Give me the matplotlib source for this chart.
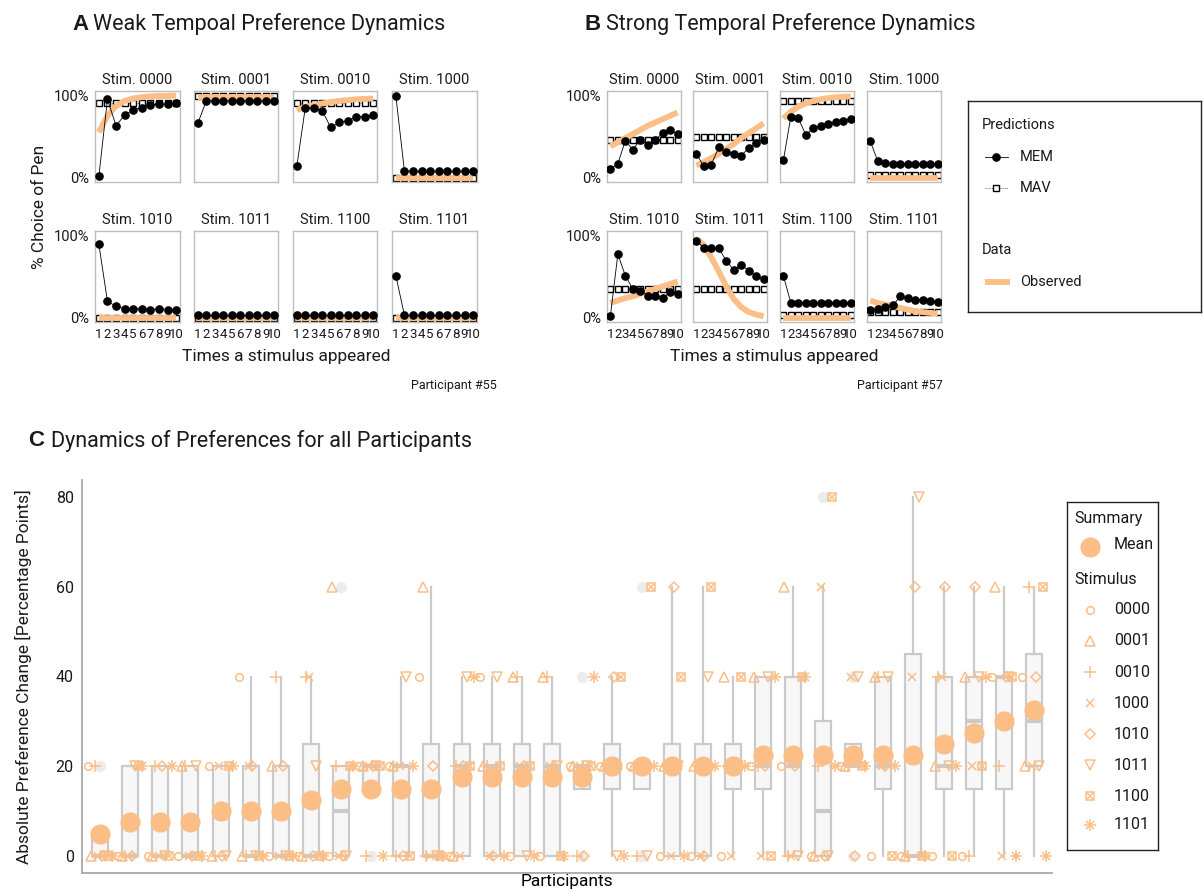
"""
Preference dynamics figure: per-stimulus choice curves for two participants
(model predictions vs. observed) and absolute preference change for all participants.
"""

import matplotlib
matplotlib.use("Agg")
import matplotlib.pyplot as plt
import numpy as np

plt.rcParams.update({
    "font.family": ["Roboto", "DejaVu Sans"],
    "font.size": 11,
    "text.color": "#1a1a1a",
    "xtick.color": "#1a1a1a",
    "ytick.color": "#1a1a1a",
})

ORANGE = "#FBBE86"
BOX_FACE = "#F7F7F7"
BOX_EDGE = "#CACACA"
FRAME = "#BDBDBD"

# ---------------------------------------------------------------- data
times = [1, 2, 3, 4, 5, 6, 7, 8, 9, 10]
stimuli = ["0000", "0001", "0010", "1000", "1010", "1011", "1100", "1101"]

# participant #55 (weak dynamics), one row per stimulus
p55_mem = [
    [0.02, 0.95, 0.63, 0.76, 0.82, 0.85, 0.88, 0.89, 0.89, 0.90],
    [0.66, 0.93, 0.93, 0.93, 0.93, 0.93, 0.93, 0.93, 0.93, 0.93],
    [0.14, 0.85, 0.84, 0.81, 0.61, 0.67, 0.69, 0.74, 0.74, 0.76],
    [0.99, 0.08, 0.08, 0.08, 0.08, 0.08, 0.08, 0.08, 0.08, 0.08],
    [0.89, 0.20, 0.14, 0.11, 0.11, 0.11, 0.10, 0.11, 0.10, 0.10],
    [0.03, 0.03, 0.03, 0.03, 0.03, 0.03, 0.03, 0.03, 0.03, 0.03],
    [0.03, 0.03, 0.03, 0.03, 0.03, 0.03, 0.03, 0.03, 0.03, 0.03],
    [0.51, 0.03, 0.03, 0.03, 0.03, 0.03, 0.03, 0.03, 0.03, 0.03],
]
p55_mav = [
    [0.90, 0.90, 0.90, 0.90, 0.90, 0.90, 0.90, 0.90, 0.90, 0.90],
    [0.99, 0.99, 0.99, 0.99, 0.99, 0.99, 0.99, 0.99, 0.99, 0.99],
    [0.90, 0.90, 0.90, 0.90, 0.90, 0.90, 0.90, 0.90, 0.90, 0.90],
    [0.00, 0.00, 0.00, 0.00, 0.00, 0.00, 0.00, 0.00, 0.00, 0.00],
    [0.00, 0.00, 0.00, 0.00, 0.00, 0.00, 0.00, 0.00, 0.00, 0.00],
    [0.00, 0.00, 0.00, 0.00, 0.00, 0.00, 0.00, 0.00, 0.00, 0.00],
    [0.00, 0.00, 0.00, 0.00, 0.00, 0.00, 0.00, 0.00, 0.00, 0.00],
    [0.00, 0.00, 0.00, 0.00, 0.00, 0.00, 0.00, 0.00, 0.00, 0.00],
]
p55_obs = [
    [0.55, 0.75, 0.87, 0.93, 0.96, 0.975, 0.985, 0.99, 0.99, 0.995],
    [0.98, 0.98, 0.98, 0.98, 0.98, 0.98, 0.98, 0.98, 0.98, 0.98],
    [0.82, 0.86, 0.88, 0.90, 0.915, 0.93, 0.94, 0.95, 0.955, 0.96],
    [0.00, 0.00, 0.00, 0.00, 0.00, 0.00, 0.00, 0.00, 0.00, 0.00],
    [0.00, 0.00, 0.00, 0.00, 0.00, 0.00, 0.00, 0.00, 0.00, 0.00],
    [0.00, 0.00, 0.00, 0.00, 0.00, 0.00, 0.00, 0.00, 0.00, 0.00],
    [0.00, 0.00, 0.00, 0.00, 0.00, 0.00, 0.00, 0.00, 0.00, 0.00],
    [0.00, 0.00, 0.00, 0.00, 0.00, 0.00, 0.00, 0.00, 0.00, 0.00],
]

# participant #57 (strong dynamics)
p57_mem = [
    [0.11, 0.17, 0.45, 0.34, 0.46, 0.40, 0.46, 0.54, 0.58, 0.53],
    [0.29, 0.14, 0.16, 0.37, 0.31, 0.29, 0.27, 0.36, 0.42, 0.46],
    [0.21, 0.74, 0.72, 0.52, 0.60, 0.63, 0.65, 0.67, 0.69, 0.71],
    [0.44, 0.20, 0.18, 0.17, 0.17, 0.17, 0.17, 0.17, 0.17, 0.17],
    [0.02, 0.77, 0.51, 0.35, 0.33, 0.27, 0.26, 0.24, 0.31, 0.29],
    [0.93, 0.85, 0.85, 0.84, 0.69, 0.58, 0.64, 0.57, 0.51, 0.47],
    [0.51, 0.18, 0.18, 0.18, 0.18, 0.18, 0.18, 0.18, 0.18, 0.18],
    [0.10, 0.11, 0.13, 0.15, 0.26, 0.24, 0.22, 0.21, 0.20, 0.19],
]
p57_mav = [
    [0.46, 0.46, 0.46, 0.46, 0.46, 0.46, 0.46, 0.46, 0.46, 0.46],
    [0.50, 0.50, 0.50, 0.50, 0.50, 0.50, 0.50, 0.50, 0.50, 0.50],
    [0.93, 0.93, 0.93, 0.93, 0.93, 0.93, 0.93, 0.93, 0.93, 0.93],
    [0.04, 0.04, 0.04, 0.04, 0.04, 0.04, 0.04, 0.04, 0.04, 0.04],
    [0.35, 0.35, 0.35, 0.35, 0.35, 0.35, 0.35, 0.35, 0.35, 0.35],
    [0.35, 0.35, 0.35, 0.35, 0.35, 0.35, 0.35, 0.35, 0.35, 0.35],
    [0.04, 0.04, 0.04, 0.04, 0.04, 0.04, 0.04, 0.04, 0.04, 0.04],
    [0.07, 0.07, 0.07, 0.07, 0.07, 0.07, 0.07, 0.07, 0.07, 0.07],
]
p57_obs = [
    [0.38, 0.43, 0.48, 0.53, 0.58, 0.63, 0.67, 0.71, 0.75, 0.79],
    [0.15, 0.19, 0.24, 0.29, 0.35, 0.41, 0.48, 0.54, 0.60, 0.66],
    [0.72, 0.80, 0.86, 0.90, 0.93, 0.95, 0.965, 0.975, 0.98, 0.985],
    [0.00, 0.00, 0.00, 0.00, 0.00, 0.00, 0.00, 0.00, 0.00, 0.00],
    [0.18, 0.21, 0.24, 0.26, 0.29, 0.32, 0.35, 0.38, 0.41, 0.44],
    [0.96, 0.88, 0.73, 0.56, 0.38, 0.23, 0.13, 0.07, 0.04, 0.02],
    [0.00, 0.00, 0.00, 0.00, 0.00, 0.00, 0.00, 0.00, 0.00, 0.00],
    [0.21, 0.18, 0.16, 0.14, 0.12, 0.10, 0.08, 0.07, 0.06, 0.05],
]

# absolute preference change (percentage points), participants 1..32, per stimulus
chg_0000 = [20, 0, 0, 0, 20, 40, 0, 0, 0, 20, 20, 40, 0, 40, 0, 0,
            20, 20, 20, 0, 0, 0, 20, 20, 0, 20, 0, 0, 0, 0, 40, 40]
chg_0001 = [0, 0, 0, 20, 0, 0, 20, 0, 60, 20, 20, 60, 0, 20, 40, 40,
            20, 20, 20, 20, 20, 40, 40, 60, 0, 20, 40, 0, 20, 40, 60, 20]
chg_0010 = [20, 0, 20, 20, 0, 0, 40, 40, 20, 0, 0, 0, 20, 20, 40, 40,
            0, 20, 0, 20, 20, 20, 20, 0, 20, 20, 40, 0, 40, 0, 20, 60]
chg_1000 = [0, 0, 0, 0, 20, 20, 0, 40, 0, 20, 20, 0, 0, 0, 20, 20,
            20, 20, 20, 0, 0, 0, 0, 0, 60, 40, 20, 40, 40, 20, 0, 20]
chg_1010 = [0, 0, 20, 0, 0, 20, 20, 0, 0, 20, 0, 20, 20, 0, 20, 20,
            0, 40, 20, 60, 0, 20, 20, 20, 0, 0, 20, 60, 60, 60, 40, 40]
chg_1011 = [0, 20, 0, 20, 0, 0, 0, 20, 0, 20, 40, 0, 40, 40, 0, 20,
            20, 0, 0, 20, 40, 20, 40, 0, 0, 40, 40, 80, 20, 40, 40, 20]
chg_1100 = [0, 20, 0, 0, 20, 0, 0, 0, 20, 20, 0, 0, 20, 20, 20, 0,
            20, 40, 60, 40, 60, 40, 0, 40, 80, 20, 0, 0, 0, 20, 40, 60]
chg_1101 = [0, 20, 20, 0, 20, 0, 0, 0, 20, 0, 20, 0, 40, 0, 0, 0,
            40, 0, 20, 0, 20, 20, 40, 40, 20, 20, 20, 0, 20, 40, 0, 0]

# ---------------------------------------------------------------- layout helpers
W, H = 1203, 892
fig = plt.figure(figsize=(W / 100, H / 100), dpi=100)


def rect(x0, y0, x1, y1):
    """pixel box (top-left origin) -> figure fraction rect"""
    return [x0 / W, 1 - y1 / H, (x1 - x0) / W, (y1 - y0) / H]


def fx(x):
    return x / W


def fy(y):
    return 1 - y / H


def small_panel(ax, mem, mav, obs, stim, show_y, show_x):
    ax.plot(times, mav, ls=(0, (1, 1.2)), color="#666666", lw=0.7,
            marker="s", ms=4.6, mfc="white", mec="black", mew=1.0, zorder=2)
    ax.plot(times, obs, color=ORANGE, lw=4.2, solid_capstyle="butt", zorder=3)
    ax.plot(times, mem, color="black", lw=0.6, marker="o", ms=5.2, zorder=4)
    ax.set_xlim(0.55, 10.45)
    ax.set_ylim(-0.05, 1.05)
    for sp in ax.spines.values():
        sp.set_color(FRAME)
        sp.set_linewidth(1.0)
    ax.set_title(f"Stim. {stim}", fontsize=10.5, pad=5)
    ax.set_yticks([0, 1])
    ax.set_yticklabels(["0%", "100%"] if show_y else [], fontsize=10.5)
    ax.set_xticks(times)
    ax.set_xticklabels([str(t) for t in times] if show_x else [], fontsize=9.5)
    ax.tick_params(length=0, pad=4)


def draw_participant(cols, mem, mav, obs, label_x, label_right, participant):
    rows = [(91, 182), (231, 322)]
    for k, stim in enumerate(stimuli):
        r, c = divmod(k, 4)
        ax = fig.add_axes(rect(cols[c][0], rows[r][0], cols[c][1], rows[r][1]))
        small_panel(ax, mem[k], mav[k], obs[k], stim, c == 0, r == 1)
    fig.text(fx(label_x), fy(357), "Times a stimulus appeared",
             ha="center", va="center", fontsize=12.5)
    fig.text(fx(label_right), fy(386), participant, ha="right", va="center", fontsize=9)


# ---------------------------------------------------------------- panels A and B
fig.text(fx(72), fy(24), "A", fontsize=16, weight="bold", va="center",
         family=["Liberation Sans", "DejaVu Sans"])
fig.text(fx(93), fy(24), "Weak Tempoal Preference Dynamics", fontsize=15.5, va="center")
fig.text(fx(585), fy(24), "B", fontsize=16, weight="bold", va="center",
         family=["Liberation Sans", "DejaVu Sans"])
fig.text(fx(606), fy(24), "Strong Temporal Preference Dynamics", fontsize=15.5, va="center")

cols_a = [(95, 180), (194, 278), (293, 377), (392, 477)]
cols_b = [(607, 681), (693, 767), (780, 854), (867, 941)]
draw_participant(cols_a, p55_mem, p55_mav, p55_obs, 286, 497, "Participant #55")
draw_participant(cols_b, p57_mem, p57_mav, p57_obs, 774, 943, "Participant #57")
fig.text(fx(40), fy(207), "% Choice of Pen", rotation=90, ha="center", va="center",
         fontsize=12.5)

# legend for the choice curves
lg = fig.add_axes(rect(968, 101, 1201, 312))
lg.set_xlim(0, 1)
lg.set_ylim(0, 1)
lg.set_xticks([])
lg.set_yticks([])
for sp in lg.spines.values():
    sp.set_color("#222222")
    sp.set_linewidth(1.0)
lg.text(0.06, 0.886, "Predictions", va="center", fontsize=10.5)
lg.plot([0.073, 0.172], [0.735, 0.735], color="black", lw=0.6)
lg.plot([0.122], [0.735], "o", color="black", ms=5.2)
lg.text(0.223, 0.735, "MEM", va="center", fontsize=10.5)
lg.plot([0.073, 0.172], [0.588, 0.588], ls=(0, (1, 1.2)), color="#666666", lw=0.7)
lg.plot([0.122], [0.588], "s", ms=4.6, mfc="white", mec="black", mew=1.0)
lg.text(0.223, 0.588, "MAV", va="center", fontsize=10.5)
lg.text(0.06, 0.294, "Data", va="center", fontsize=10.5)
lg.plot([0.073, 0.18], [0.142, 0.142], color=ORANGE, lw=4.2, solid_capstyle="butt")
lg.text(0.223, 0.142, "Observed", va="center", fontsize=10.5)

# ---------------------------------------------------------------- panel C
fig.text(fx(28), fy(441), "C", fontsize=16, weight="bold", va="center",
         family=["Liberation Sans", "DejaVu Sans"])
fig.text(fx(51), fy(441), "Dynamics of Preferences for all Participants",
         fontsize=15.5, va="center")

changes = np.array([chg_0000, chg_0001, chg_0010, chg_1000,
                    chg_1010, chg_1011, chg_1100, chg_1101], dtype=float)
n_part = changes.shape[1]
participants = np.arange(1, n_part + 1)
means = changes.mean(axis=0)

axc = fig.add_axes(rect(82, 480, 1052, 873))
axc.boxplot([changes[:, i] for i in range(n_part)], positions=participants,
            widths=0.53, patch_artist=True, showcaps=False, whis=1.5,
            boxprops=dict(facecolor=BOX_FACE, edgecolor=BOX_EDGE, linewidth=1.6),
            whiskerprops=dict(color=BOX_EDGE, linewidth=1.6),
            medianprops=dict(color=BOX_EDGE, linewidth=3),
            flierprops=dict(marker="o", markerfacecolor="#ECECEC",
                            markeredgecolor="none", markersize=8),
            zorder=1)


def stim_marker(ax, x, y, k, scale=1.0, **kw):
    """draw stimulus shape k (R-like pch 1, 2, 3, 4, 5, 6, 7, 8)"""
    base = dict(color=ORANGE, ls="none", mew=1.1, **kw)
    if k == 0:
        ax.plot(x, y, marker="o", ms=5.5 * scale, mfc="none", **base)
    elif k == 1:
        ax.plot(x, y, marker="^", ms=7 * scale, mfc="none", **base)
    elif k == 2:
        ax.plot(x, y, marker="+", ms=8 * scale, **base)
    elif k == 3:
        ax.plot(x, y, marker="x", ms=6 * scale, **base)
    elif k == 4:
        ax.plot(x, y, marker="D", ms=5.5 * scale, mfc="none", **base)
    elif k == 5:
        ax.plot(x, y, marker="v", ms=7 * scale, mfc="none", **base)
    elif k == 6:
        ax.plot(x, y, marker="s", ms=5.2 * scale, mfc="none", **base)
        ax.plot(x, y, marker="x", ms=4.2 * scale, **base)
    else:
        ax.plot(x, y, marker="+", ms=8 * scale, **base)
        ax.plot(x, y, marker="x", ms=6 * scale, **base)


# fixed horizontal dodge per stimulus so shapes at one level stay readable
dodge = np.linspace(-0.4, 0.4, len(stimuli))
for k in range(len(stimuli)):
    stim_marker(axc, participants + dodge[k], changes[k], k, zorder=3)

axc.plot(participants, means, "o", color=ORANGE, ms=14.5, mec="none", zorder=4)

axc.set_xlim(0.4, n_part + 0.6)
axc.set_ylim(-3.8, 83.8)
axc.set_xticks([])
axc.set_yticks([0, 20, 40, 60, 80])
axc.tick_params(axis="y", length=0, labelsize=11.5, pad=6)
for side in ("top", "right"):
    axc.spines[side].set_visible(False)
for side in ("left", "bottom"):
    axc.spines[side].set_color("#A8A8A8")
    axc.spines[side].set_linewidth(1.3)
axc.set_xlabel("Participants", fontsize=12.5, labelpad=1)
fig.text(fx(23), fy(677), "Absolute Preference Change [Percentage Points]",
         rotation=90, ha="center", va="center", fontsize=12.5)

# legend for panel C
lc = fig.add_axes(rect(1067, 502, 1158, 850))
lc.set_xlim(0, 1)
lc.set_ylim(0, 1)
lc.set_xticks([])
lc.set_yticks([])
for sp in lc.spines.values():
    sp.set_color("#222222")
    sp.set_linewidth(1.0)
lc.text(0.077, 0.954, "Summary", va="center", fontsize=11.5)
lc.plot([0.253], [0.871], "o", color=ORANGE, ms=14.5, mec="none")
lc.text(0.516, 0.877, "Mean", va="center", fontsize=11.5)
lc.text(0.077, 0.776, "Stimulus", va="center", fontsize=11.5)
entry_y = [0.690, 0.601, 0.511, 0.422, 0.333, 0.244, 0.155, 0.072]
for k, stim in enumerate(stimuli):
    stim_marker(lc, [0.253], [entry_y[k]], k)
    lc.text(0.516, entry_y[k], stim, va="center", fontsize=11.5)

fig.savefig("out.png", dpi=100)
plt.close(fig)
